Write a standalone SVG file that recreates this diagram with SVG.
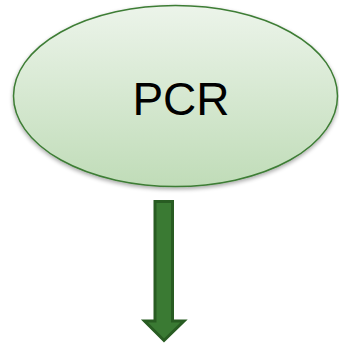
<svg xmlns="http://www.w3.org/2000/svg" width="339" height="344" viewBox="0 0 339 344">
<defs>
<linearGradient id="g" x1="0" y1="0" x2="0" y2="1">
<stop offset="0" stop-color="#ecf4ea"/>
<stop offset="1" stop-color="#c0dcb8"/>
</linearGradient>
<filter id="sh" x="-10%" y="-10%" width="120%" height="130%">
<feGaussianBlur in="SourceAlpha" stdDeviation="2"/>
<feOffset dy="2"/>
<feComponentTransfer><feFuncA type="linear" slope="0.35"/></feComponentTransfer>
<feMerge><feMergeNode/><feMergeNode in="SourceGraphic"/></feMerge>
</filter>
<style>
.node{fill:url(#g);stroke:#3e7d35;stroke-width:1.5}
.lbl{font-family:"Liberation Sans",Arial,sans-serif;font-size:46px;fill:#000;text-anchor:middle}
.arr{fill:#3a7a33;stroke:#285c22;stroke-width:3;stroke-linejoin:miter}
</style>
</defs>
<g id="pcr">
<ellipse class="node" cx="175.5" cy="96" rx="162" ry="90.5" filter="url(#sh)"/>
<text class="lbl" x="181" y="115">PCR</text>
</g>
<g id="connectors">
<path class="arr" d="M155 201.5 H172.5 V321 H184 L164 340.5 L144.5 321 H155 Z"/>
</g>
</svg>
